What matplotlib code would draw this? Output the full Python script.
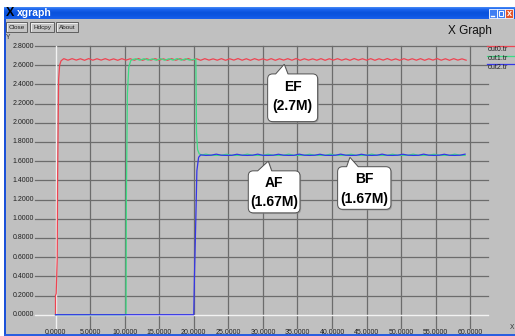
import numpy as np
import matplotlib
matplotlib.use("Agg")
import matplotlib.pyplot as plt
from matplotlib.patches import Rectangle, PathPatch
from matplotlib.path import Path
from matplotlib.lines import Line2D
from matplotlib.transforms import IdentityTransform
from matplotlib.colors import LinearSegmentedColormap

# ---------------- data ----------------
x_ticks = [0, 5, 10, 15, 20, 25, 30, 35, 40, 45, 50, 55, 60]
x_tick_labels = ["0.0000", "5.0000", "10.0000", "15.0000", "20.0000", "25.0000",
                 "30.0000", "35.0000", "40.0000", "45.0000", "50.0000", "55.0000",
                 "60.0000"]
y_ticks = [0.0, 0.2, 0.4, 0.6, 0.8, 1.0, 1.2, 1.4, 1.6, 1.8, 2.0, 2.2, 2.4, 2.6, 2.8]
y_tick_labels = ["0.0000", "0.2000", "0.4000", "0.6000", "0.8000", "1.0000",
                 "1.2000", "1.4000", "1.6000", "1.8000", "2.0000", "2.2000",
                 "2.4000", "2.6000", "2.8000"]

series_names = ["out0.tr", "out1.tr", "out2.tr"]
series_colors = ["#ee4452", "#3ddc84", "#3535e8"]

# out0: rises at t=0 and settles near 2.66 with a small ripple
out0_rise_t = [0.0, 0.0, 0.1, 0.25, 0.3, 0.45, 0.6, 0.8, 1.05, 1.2]
out0_rise_v = [0.0, 0.2, 0.22, 0.6, 1.4, 2.45, 2.6, 2.645, 2.66, 2.668]
out0_ripple_start, out0_ripple_step = 1.8, 0.6
out0_ripple_v = [
    2.652, 2.668, 2.653, 2.667, 2.651, 2.669, 2.652, 2.667, 2.653, 2.668,
    2.652, 2.666, 2.651, 2.668, 2.653, 2.667, 2.652, 2.669, 2.651, 2.667,
    2.653, 2.668, 2.652, 2.666, 2.651, 2.668, 2.652, 2.667, 2.653, 2.669,
    2.652, 2.667, 2.651, 2.668, 2.653, 2.666, 2.652, 2.668, 2.651, 2.667,
    2.653, 2.669, 2.652, 2.667, 2.651, 2.668, 2.653, 2.666, 2.652, 2.668,
    2.651, 2.667, 2.653, 2.668, 2.652, 2.669, 2.651, 2.667, 2.653, 2.666,
    2.652, 2.668, 2.651, 2.667, 2.653, 2.668, 2.652, 2.666, 2.651, 2.669,
    2.653, 2.667, 2.652, 2.668, 2.651, 2.667, 2.653, 2.669, 2.652, 2.666,
    2.651, 2.668, 2.653, 2.667, 2.652, 2.668, 2.651, 2.667, 2.653, 2.669,
    2.652, 2.667, 2.651, 2.668, 2.653, 2.666, 2.652,
]

# out1: rises at t=10 to 2.66, falls at t=20 to 1.665
out1_rise_t = [0.0, 10.2, 10.25, 10.4, 10.6, 10.9, 11.2]
out1_rise_v = [0.0, 0.0, 1.2, 2.3, 2.58, 2.65, 2.66]
out1_high_start, out1_high_step = 11.6, 0.6
out1_high_v = [2.667, 2.652, 2.668, 2.653, 2.666, 2.651, 2.668,
               2.652, 2.667, 2.653, 2.669, 2.652, 2.667, 2.653]
out1_fall_t = [20.0, 20.3, 20.35, 20.4, 20.55, 20.8, 21.2]
out1_fall_v = [2.66, 2.665, 2.3, 1.9, 1.72, 1.675, 1.665]
out1_low_start, out1_low_step = 21.75, 0.75
out1_low_v = [
    1.673, 1.662, 1.660, 1.662, 1.672, 1.661, 1.660, 1.662, 1.673, 1.662,
    1.660, 1.661, 1.672, 1.662, 1.660, 1.662, 1.673, 1.661, 1.660, 1.662,
    1.672, 1.662, 1.660, 1.661, 1.673, 1.662, 1.660, 1.662, 1.672, 1.661,
    1.660, 1.662, 1.673, 1.662, 1.660, 1.661, 1.672, 1.662, 1.660, 1.662,
    1.673, 1.661, 1.660, 1.662, 1.672, 1.662, 1.660, 1.661, 1.673, 1.662,
    1.660,
]

# out2: stays at 0 until t=20, then settles near 1.665
out2_rise_t = [0.0, 20.0, 20.1, 20.3, 20.45, 20.7, 21.0]
out2_rise_v = [0.0, 0.0, 0.4, 1.0, 1.5, 1.64, 1.665]
out2_low_start, out2_low_step = 21.75, 0.75
out2_low_v = [
    1.660, 1.662, 1.673, 1.662, 1.660, 1.661, 1.672, 1.662, 1.660, 1.662,
    1.673, 1.661, 1.660, 1.662, 1.672, 1.662, 1.660, 1.661, 1.673, 1.662,
    1.660, 1.662, 1.672, 1.661, 1.660, 1.662, 1.673, 1.662, 1.660, 1.661,
    1.672, 1.662, 1.660, 1.662, 1.673, 1.661, 1.660, 1.662, 1.672, 1.662,
    1.660, 1.661, 1.673, 1.662, 1.660, 1.662, 1.672, 1.661, 1.660, 1.662,
    1.673,
]

# callouts: (line 1, line 2, anchor t, anchor value)
callouts = [
    ("EF", "(2.7M)", 33.09, 2.61),
    ("AF", "(1.67M)", 30.78, 1.60),
    ("BF", "(1.67M)", 42.59, 1.64),
]


def sampled(start, step, values):
    return list(start + step * np.arange(len(values))), list(values)


t0, v0 = sampled(out0_ripple_start, out0_ripple_step, out0_ripple_v)
out0_t = out0_rise_t + t0
out0_v = out0_rise_v + v0

t1a, v1a = sampled(out1_high_start, out1_high_step, out1_high_v)
t1b, v1b = sampled(out1_low_start, out1_low_step, out1_low_v)
out1_t = out1_rise_t + t1a + out1_fall_t + t1b
out1_v = out1_rise_v + v1a + out1_fall_v + v1b

t2, v2 = sampled(out2_low_start, out2_low_step, out2_low_v)
out2_t = out2_rise_t + t2
out2_v = out2_rise_v + v2

# ---------------- window frame ----------------
W, H = 515, 336
fig = plt.figure(figsize=(W / 100, H / 100), dpi=100)
fig.patch.set_facecolor("white")


def fx(x):
    return x / W


def fy(y):
    return 1 - y / H


def box(x0, y0, x1, y1, **kw):
    r = Rectangle((fx(x0), fy(y1)), (x1 - x0) / W, (y1 - y0) / H,
                  transform=fig.transFigure, **kw)
    fig.add_artist(r)
    return r


FONT = "Liberation Sans"

box(6, 19, 515, 334, facecolor="#c0c0c0", edgecolor="none", zorder=0)
box(3.5, 7, 6, 336, facecolor="#1c52d8", edgecolor="none", zorder=0)
box(3.5, 334, 515, 336, facecolor="#2a5ee0", edgecolor="none", zorder=0)

# title bar gradient
tb = fig.add_axes([fx(3.5), fy(19.5), (515 - 3.5) / W, 12.5 / H])
grad = np.linspace(0, 1, 32)[:, None]
cm = LinearSegmentedColormap.from_list(
    "tb", ["#5a9af8", "#1a64ee", "#0a52dc", "#0c56e2", "#1a60ea"])
tb.imshow(grad, aspect="auto", cmap=cm, extent=[0, 1, 0, 1])
tb.set_axis_off()

fig.text(fx(10), fy(13.5), "X", fontsize=9, fontweight="bold", color="black",
         ha="center", va="center", family=FONT)
fig.text(fx(17), fy(13.5), "xgraph", fontsize=7.5, fontweight="bold",
         color="white", ha="left", va="center", family=FONT)

# window control buttons
for x0, col in [(489, "#3f7ff2"), (497, "#3f7ff2"), (505, "#e2552c")]:
    box(x0, 9, x0 + 7.6, 18, facecolor=col, edgecolor="white", lw=0.6, zorder=2)
fig.add_artist(Line2D([fx(490.8), fx(493.8)], [fy(16), fy(16)],
                      transform=fig.transFigure, color="white", lw=1.0, zorder=3))
box(498.8, 11, 502.8, 16, facecolor="none", edgecolor="white", lw=0.7, zorder=3)
fig.text(fx(509), fy(13.6), "x", fontsize=6.5, fontweight="bold", color="white",
         ha="center", va="center", family=FONT, zorder=3)

# push buttons
for (x0, x1, label) in [(6, 27, "Close"), (30, 54, "Hdcpy"), (56, 78, "About")]:
    box(x0, 22.5, x1, 32, facecolor="#c4c4c4", edgecolor="#505050", lw=0.6, zorder=2)
    fig.add_artist(Line2D([fx(x0 + 0.8), fx(x0 + 0.8), fx(x1 - 0.8)],
                          [fy(31.2), fy(23.3), fy(23.3)], transform=fig.transFigure,
                          color="white", lw=0.5, zorder=3))
    fig.text(fx((x0 + x1) / 2), fy(27.4), label, fontsize=4.6, color="#202020",
             ha="center", va="center", family=FONT, zorder=3)

fig.text(fx(470), fy(31), "X Graph", fontsize=8.5, color="#101010",
         ha="center", va="center", family=FONT)
fig.text(fx(8.5), fy(37.5), "Y", fontsize=4.8, color="#303030",
         ha="center", va="center", family=FONT)
fig.text(fx(512), fy(327.5), "X", fontsize=4.8, color="#303030",
         ha="center", va="center", family=FONT)

# ---------------- plot area ----------------
PX_T0, PX_PER_T = 55.5, 6.913
PX_V0, PX_PER_V = 314.7, 95.96
left_px, right_px, top_px, bot_px = 35, 488, 46, 328
ax = fig.add_axes([fx(left_px), fy(bot_px), (right_px - left_px) / W,
                   (bot_px - top_px) / H])
ax.set_xlim((left_px - PX_T0) / PX_PER_T, (right_px - PX_T0) / PX_PER_T)
ax.set_ylim((PX_V0 - bot_px) / PX_PER_V, 2.8)
ax.set_axis_off()

grid_col = "#6c6c6c"
for t in x_ticks[1:]:
    ax.axvline(t, color=grid_col, lw=0.9, clip_on=False, zorder=1)
for v in y_ticks[1:]:
    ax.axhline(v, color=grid_col, lw=0.9, clip_on=False, zorder=1)
ax.axvline(0, color="#f2f2f2", lw=1.0, clip_on=False, zorder=1.5)
ax.axhline(0, color="#f2f2f2", lw=1.0, clip_on=False, zorder=1.5)

for v, lab in zip(y_ticks, y_tick_labels):
    ax.text((34 - PX_T0) / PX_PER_T, v, lab, ha="right", va="center",
            fontsize=5, color="#202020", family=FONT)
for t, lab in zip(x_ticks, x_tick_labels):
    ax.text(t, (PX_V0 - 332) / PX_PER_V, lab, ha="center", va="center",
            fontsize=5, color="#202020", family=FONT)

for (tt, vv), col in zip([(out0_t, out0_v), (out1_t, out1_v), (out2_t, out2_v)],
                         series_colors):
    ax.plot(tt, vv, color=col, lw=0.9, zorder=3, clip_on=False,
            solid_joinstyle="round")

# legend at right edge
for i, (name, col) in enumerate(zip(series_names, series_colors)):
    ly = [46, 55.5, 64][i]
    fig.add_artist(Line2D([fx(487), fx(515)], [fy(ly), fy(ly)],
                          transform=fig.transFigure, color=col, lw=0.9, zorder=3))
    fig.text(fx(488), fy(ly + 3.2), name, fontsize=5.1, color="#202020",
             ha="left", va="center", family=FONT)

# ---------------- callouts ----------------
# geometry in pixels relative to the anchor: box left/right, top/bottom (down),
# pointer base left/right, text line offsets
callout_geom = [
    (-16.6, 33.4, 9.7, 57.4, -8.6, 3.7, 22.4, 41.4),
    (-20.0, 31.7, 9.7, 51.7, -10.6, 3.4, 21.7, 40.7),
    (-12.3, 41.0, 9.4, 52.0, -3.3, 8.3, 22.0, 42.0),
]
rad = 5.0
for (l1, l2, ct, cv), g in zip(callouts, callout_geom):
    bl, br, btop, bbot, p0, p1, y1, y2 = g
    tx, ty = ax.transData.transform((ct, cv))
    L, R, T, B = tx + bl, tx + br, ty - btop, ty - bbot
    verts = [
        (L + rad, T), (tx + p0, T), (tx, ty), (tx + p1, T), (R - rad, T),
        (R, T), (R, T - rad), (R, B + rad), (R, B), (R - rad, B),
        (L + rad, B), (L, B), (L, B + rad), (L, T - rad), (L, T), (L + rad, T),
        (L + rad, T),
    ]
    codes = [Path.MOVETO, Path.LINETO, Path.LINETO, Path.LINETO, Path.LINETO,
             Path.CURVE3, Path.CURVE3, Path.LINETO, Path.CURVE3, Path.CURVE3,
             Path.LINETO, Path.CURVE3, Path.CURVE3, Path.LINETO, Path.CURVE3,
             Path.CURVE3, Path.CLOSEPOLY]
    shadow = PathPatch(Path([(x + 1.2, y - 1.2) for x, y in verts], codes),
                       facecolor="#8a8a8a", edgecolor="none",
                       transform=IdentityTransform(), zorder=4, alpha=0.6)
    fig.add_artist(shadow)
    patch = PathPatch(Path(verts, codes), facecolor="white", edgecolor="#505050",
                      lw=0.7, transform=IdentityTransform(), zorder=5)
    fig.add_artist(patch)
    cx = (L + R) / 2
    for txt, dy in [(l1, y1), (l2, y2)]:
        fx_, fy_ = fig.transFigure.inverted().transform((cx, ty - dy))
        fig.text(fx_, fy_, txt, fontsize=10, fontweight="bold", color="black",
                 ha="center", va="center", zorder=6,
                 family=["Liberation Sans Narrow", "Liberation Sans"])

fig.savefig("out.png", dpi=100, facecolor=fig.get_facecolor())
